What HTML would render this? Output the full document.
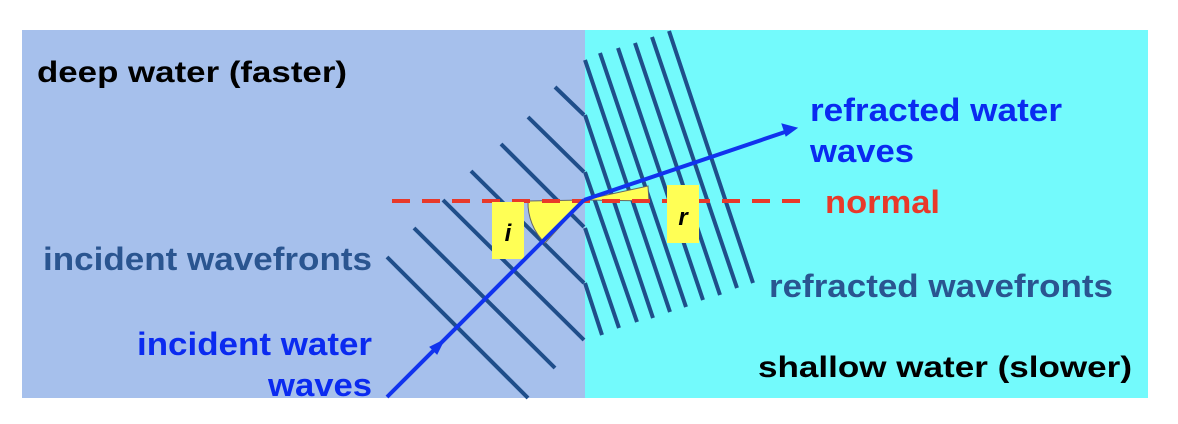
<!DOCTYPE html>
<html><head><meta charset="utf-8"><style>
html,body{margin:0;padding:0;background:#fff;}
svg{display:block;font-family:"Liberation Sans",Arial,sans-serif;font-weight:bold;}
</style></head><body>
<svg width="1178" height="424" viewBox="0 0 1178 424">
<rect x="22" y="30" width="563" height="368" fill="#a6c0ec"/>
<rect x="585" y="30" width="563" height="368" fill="#73fafc"/>
<g stroke="#1f4e8a" stroke-width="4">
<line x1="555" y1="87" x2="584" y2="115"/>
<line x1="528" y1="117" x2="584" y2="172"/>
<line x1="501" y1="144" x2="584" y2="227"/>
<line x1="471" y1="171" x2="584" y2="283"/>
<line x1="443" y1="200" x2="584" y2="340"/>
<line x1="414" y1="228" x2="555" y2="368"/>
<line x1="387" y1="257" x2="528" y2="398"/>
</g>
<g stroke="#1f4e8a" stroke-width="4">
<line x1="585" y1="283" x2="602" y2="335"/>
<line x1="585" y1="228" x2="619" y2="328"/>
<line x1="585" y1="172" x2="637" y2="322"/>
<line x1="585" y1="115" x2="653" y2="318"/>
<line x1="585" y1="60" x2="670" y2="312"/>
<line x1="600" y1="53" x2="686" y2="307"/>
<line x1="618" y1="48" x2="703" y2="300"/>
<line x1="635" y1="43" x2="720" y2="295"/>
<line x1="652" y1="37" x2="737" y2="288"/>
<line x1="669" y1="31" x2="753" y2="283"/>
</g>
<path d="M528,201 L584,200 L545,243 A56,56 0 0 1 528,201 Z" fill="#ffff55" stroke="#666" stroke-width="1"/>
<path d="M584,200 L648,186 L649,201 Z" fill="#ffff55" stroke="#666" stroke-width="1"/>
<line x1="392" y1="201" x2="812" y2="201" stroke="#e8392a" stroke-width="4" stroke-dasharray="18,12"/>
<rect x="492" y="202" width="32" height="57" fill="#ffff55"/>
<text x="508" y="241" font-size="24" font-style="italic" text-anchor="middle" fill="#000">i</text>
<rect x="667" y="185" width="32" height="58" fill="#ffff55"/>
<text x="683" y="225" font-size="24" font-style="italic" text-anchor="middle" fill="#000">r</text>
<g stroke="#1133ee" stroke-width="4" fill="#1133ee">
<line x1="387" y1="397" x2="584" y2="200"/>
<polygon points="444,340 430,347 437,354" stroke-width="1"/>
</g>
<g stroke="#1133ee" stroke-width="4" fill="#1133ee">
<line x1="584" y1="200" x2="788" y2="131"/>
<polygon points="797,128 782,124 786,136" stroke-width="1"/>
</g>
<text x="37" y="82" font-size="30" textLength="310" lengthAdjust="spacingAndGlyphs" fill="#000">deep water (faster)</text>
<text x="43" y="270" font-size="32" textLength="329" lengthAdjust="spacingAndGlyphs" fill="#2a5590">incident wavefronts</text>
<text x="137" y="355" font-size="32" textLength="235" lengthAdjust="spacingAndGlyphs" fill="#0a2af0">incident water</text>
<text x="268" y="396" font-size="32" textLength="104" lengthAdjust="spacingAndGlyphs" fill="#0a2af0">waves</text>
<text x="810" y="121" font-size="32" textLength="252" lengthAdjust="spacingAndGlyphs" fill="#0a2af0">refracted water</text>
<text x="810" y="162" font-size="32" textLength="104" lengthAdjust="spacingAndGlyphs" fill="#0a2af0">waves</text>
<text x="825" y="213" font-size="32" textLength="115" lengthAdjust="spacingAndGlyphs" fill="#e8392a">normal</text>
<text x="769" y="297" font-size="32" textLength="344" lengthAdjust="spacingAndGlyphs" fill="#2a5590">refracted wavefronts</text>
<text x="758" y="377" font-size="30" textLength="374" lengthAdjust="spacingAndGlyphs" fill="#000">shallow water (slower)</text>
</svg>
</body></html>
